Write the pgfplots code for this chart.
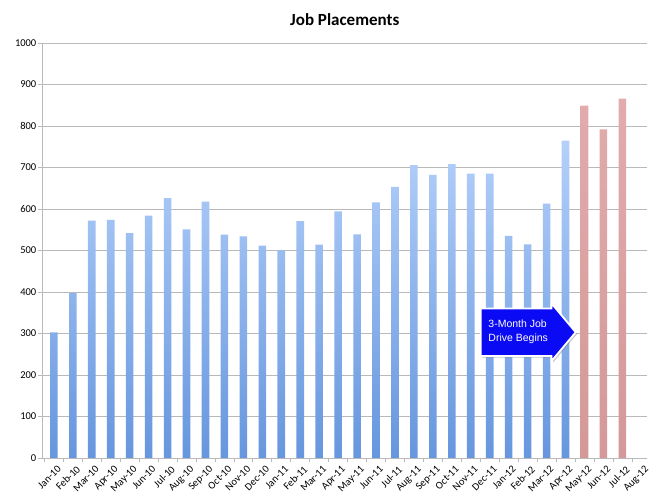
\documentclass[border=0pt]{standalone}
\usepackage{pgfplots}
\pgfplotsset{compat=1.18}
\usepackage{fontspec}
\setmainfont{Carlito}
\newfontfamily\arialfont{Liberation Sans}
\usetikzlibrary{shapes.arrows,shadows}
\definecolor{gridgray}{RGB}{185,185,185}
\definecolor{bluetop}{RGB}{180,208,250}
\definecolor{bluebot}{RGB}{102,150,222}
\definecolor{redtop}{RGB}{226,172,172}
\definecolor{redbot}{RGB}{212,152,152}
\begin{document}
\begin{tikzpicture}
\begin{axis}[
  scale only axis,
  width=604.5pt, height=415pt,
  xmin=-0.6, xmax=31.3,
  ymin=0, ymax=1000,
  ytick={0,100,...,1000},
  xtick={0,...,31},
  xticklabels={Jan-10,Feb-10,Mar-10,Apr-10,May-10,Jun-10,Jul-10,Aug-10,Sep-10,Oct-10,Nov-10,Dec-10,Jan-11,Feb-11,Mar-11,Apr-11,May-11,Jun-11,Jul-11,Aug-11,Sep-11,Oct-11,Nov-11,Dec-11,Jan-12,Feb-12,Mar-12,Apr-12,May-12,Jun-12,Jul-12,Aug-12},
  minor xtick={-0.5,0.5,...,31.5},
  major x tick style={draw=none},
  minor x tick style={gridgray, line width=0.7pt},
  ytick style={gridgray, line width=0.7pt},
  tick align=outside,
  major tick length=4pt,
  minor tick length=4pt,
  axis x line*=bottom,
  axis y line*=left,
  axis line style={gridgray, line width=0.8pt},
  ymajorgrids,
  grid style={gridgray, line width=0.8pt},
  /pgf/number format/assume math mode=true,
  /pgf/number format/1000 sep={},
  yticklabel style={font=\fontsize{10.5}{12}\selectfont, inner sep=2pt},
  xticklabel style={font=\fontsize{10.5}{12}\selectfont, rotate=45, anchor=north east, inner sep=1pt, yshift=-3pt, xshift=1pt},
  title={\bfseries\fontsize{17}{20}\selectfont Job Placements},
  title style={at={(0.5,1)}, anchor=south, yshift=8pt},
  clip=false,
]
\addplot[ybar, bar width=7.6pt, bar shift=0pt, draw=none, top color=bluetop, bottom color=bluebot]
coordinates {
(0,303) (1,398) (2,572) (3,574) (4,542) (5,584) (6,626) (7,551) (8,618) (9,538)
(10,534) (11,512) (12,500) (13,571) (14,514) (15,594) (16,539) (17,616) (18,653) (19,706)
(20,682) (21,708) (22,685) (23,685) (24,535) (25,515) (26,613) (27,765)
};
\addplot[ybar, bar width=7.6pt, bar shift=0pt, draw=none, top color=redtop, bottom color=redbot]
coordinates {
(28,849) (29,792) (30,866)
};
\node[single arrow, fill={rgb,255:red,10;green,10;blue,245}, draw=white, line width=1.8pt,
  drop shadow={shadow xshift=1.5pt, shadow yshift=-1.5pt, opacity=0.45},
  single arrow head extend=5pt, single arrow tip angle=100,
  minimum height=95pt, inner xsep=4pt, inner ysep=11pt,
  text=white, align=left, font=\arialfont\fontsize{10.5}{14}\selectfont,
  anchor=tip] at (axis cs:27.6,303) {3-Month Job\\Drive Begins};
\end{axis}
\path ([xshift=-42.5pt,yshift=-44pt]current axis.south west) rectangle ++(652pt,502pt);
\end{tikzpicture}
\end{document}
